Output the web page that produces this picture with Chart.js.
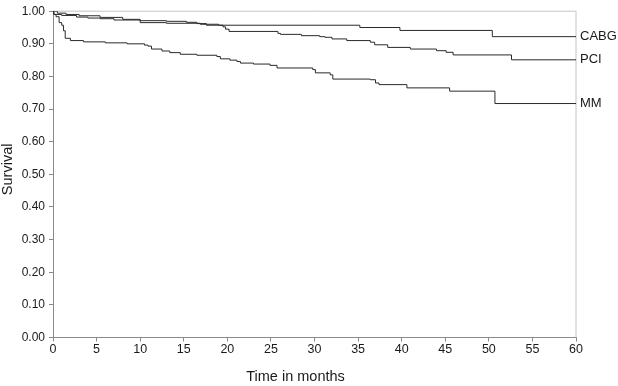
<!DOCTYPE html>
<html>
<head>
<meta charset="utf-8">
<title>Survival</title>
<script src="https://cdn.jsdelivr.net/npm/chart.js@4/dist/chart.umd.min.js"></script>
<style>
  html, body { margin: 0; padding: 0; background: #fff; }
  #wrap { width: 618px; height: 386px; }
</style>
</head>
<body>
<div id="wrap"><canvas id="survivalChart" width="618" height="386"></canvas></div>
<script>
// Kaplan-Meier estimates (time in months, survival)
const cabgTime = [0, 0.1, 1, 2.7, 4, 5.4, 7, 10, 13, 16.9, 19, 35.2, 39.8, 50.4, 60];
const cabgSurv = [1.0, 0.99, 0.987, 0.982, 0.979, 0.977, 0.973, 0.965, 0.963, 0.960, 0.957, 0.950, 0.941, 0.922, 0.922];

const pciTime = [0, 0.5, 1.5, 3, 5.4, 8, 10, 13, 15.3, 16.5, 17.6, 19.5, 19.8, 20.2, 25.8, 26.1, 28.5, 30.6, 31.2, 32, 33.7, 36.4, 36.9, 38.4, 41, 44, 45.1, 45.9, 52.6, 60];
const pciSurv = [1.0, 0.994, 0.99, 0.986, 0.981, 0.975, 0.971, 0.969, 0.966, 0.962, 0.957, 0.952, 0.945, 0.938, 0.932, 0.929, 0.925, 0.922, 0.920, 0.915, 0.910, 0.905, 0.897, 0.889, 0.884, 0.879, 0.874, 0.866, 0.851, 0.851];

const mmTime = [0, 0.1, 0.35, 0.7, 1.0, 1.2, 1.4, 2, 3.5, 6, 8.5, 10.5, 10.9, 11.3, 12.5, 13.4, 14.6, 16.5, 18.8, 19.2, 20.3, 21.1, 21.5, 23, 24.9, 25.7, 29.8, 30.1, 31.8, 32.1, 36.4, 37, 37.4, 40.6, 45.5, 50.7, 60];
const mmSurv = [1.0, 0.99, 0.983, 0.965, 0.957, 0.94, 0.917, 0.91, 0.906, 0.903, 0.9, 0.896, 0.893, 0.884, 0.878, 0.873, 0.868, 0.865, 0.861, 0.854, 0.85, 0.846, 0.841, 0.838, 0.834, 0.826, 0.821, 0.811, 0.805, 0.792, 0.79, 0.78, 0.775, 0.765, 0.755, 0.717, 0.717];

const groupNames = ['CABG', 'PCI', 'MM'];
const xTitle = 'Time in months';
const yTitle = 'Survival';

const FONT = '"Liberation Sans", Arial, sans-serif';
const AXIS_COLOR = '#8a8a8a';
const FRAME_COLOR = '#c4c4c4';
const TEXT_COLOR = '#1a1a1a';

Chart.defaults.font.family = FONT;
Chart.defaults.color = TEXT_COLOR;

function toPoints(t, s) {
  return t.map((x, i) => ({ x: x, y: s[i] }));
}

function makeSet(label, t, s) {
  return {
    label: label,
    data: toPoints(t, s),
    borderColor: '#2a2a2a',
    borderWidth: 1,
    pointRadius: 0,
    stepped: 'before',
    fill: false
  };
}

// light frame on top/right, end labels and axis titles
const decorPlugin = {
  id: 'decor',
  beforeDatasetsDraw(chart) {
    const { ctx, chartArea: a } = chart;
    ctx.save();
    ctx.strokeStyle = FRAME_COLOR;
    ctx.lineWidth = 1;
    ctx.beginPath();
    ctx.moveTo(a.left, a.top);
    ctx.lineTo(a.right, a.top);
    ctx.lineTo(a.right, a.bottom);
    ctx.stroke();
    ctx.restore();
  },
  afterDraw(chart) {
    const { ctx, chartArea: a, scales } = chart;
    ctx.save();
    ctx.fillStyle = TEXT_COLOR;
    ctx.font = '13px ' + FONT;
    ctx.textBaseline = 'middle';
    ctx.textAlign = 'left';
    chart.data.datasets.forEach(ds => {
      const last = ds.data[ds.data.length - 1];
      ctx.fillText(ds.label, scales.x.getPixelForValue(last.x) + 4, scales.y.getPixelForValue(last.y));
    });

    ctx.font = '14.5px ' + FONT;
    ctx.textAlign = 'center';
    ctx.fillText(xTitle, (a.left + a.right) / 2 - 19, 377);

    ctx.translate(8, (a.top + a.bottom) / 2 - 5);
    ctx.rotate(-Math.PI / 2);
    ctx.fillText(yTitle, 0, 0);
    ctx.restore();
  }
};

const ctx = document.getElementById('survivalChart').getContext('2d');
const survivalChart = new Chart(ctx, {
  type: 'line',
  data: {
    datasets: [
      makeSet(groupNames[0], cabgTime, cabgSurv),
      makeSet(groupNames[1], pciTime, pciSurv),
      makeSet(groupNames[2], mmTime, mmSurv)
    ]
  },
  options: {
    responsive: false,
    animation: false,
    layout: { padding: { left: 0, top: 7.5, right: 42, bottom: 0 } },
    plugins: {
      legend: { display: false },
      tooltip: { enabled: false }
    },
    scales: {
      x: {
        type: 'linear',
        min: 0,
        max: 60,
        afterFit(scale) { scale.height = 48.5; },
        ticks: { stepSize: 5, padding: 1, font: { size: 12.5 }, color: TEXT_COLOR, maxRotation: 0 },
        grid: { drawOnChartArea: false, drawTicks: true, tickLength: 4, color: AXIS_COLOR },
        border: { display: true, color: AXIS_COLOR, width: 1 }
      },
      y: {
        type: 'linear',
        min: 0,
        max: 1,
        afterFit(scale) { scale.width = 53; },
        ticks: {
          stepSize: 0.1,
          padding: 4,
          font: { size: 12 },
          color: TEXT_COLOR,
          callback: v => v.toFixed(2)
        },
        grid: { drawOnChartArea: false, drawTicks: true, tickLength: 4, color: AXIS_COLOR },
        border: { display: true, color: AXIS_COLOR, width: 1 }
      }
    }
  },
  plugins: [decorPlugin]
});
</script>
</body>
</html>
